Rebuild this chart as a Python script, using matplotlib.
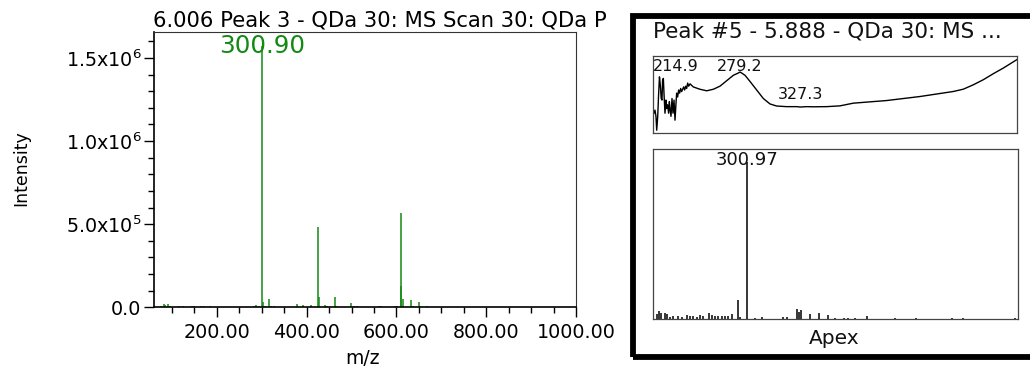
import matplotlib
matplotlib.use('Agg')

import matplotlib.pyplot as plt
from matplotlib.patches import Rectangle
from matplotlib.ticker import MultipleLocator

plt.rcParams['font.family'] = 'DejaVu Sans'

GREEN = '#138a13'

# --- Peak 3 mass spectrum (m/z, counts) ---
ms_mz = [75.6, 81.6, 85.2, 92.0, 95.7, 116.6, 124.0, 145.0, 150.0, 165.0,
         171.0, 185.0, 282.8, 288.0, 293.0, 300.90, 302.9, 306.7, 316.3,
         320.0, 326.8, 379.0, 391.0, 409.6, 425.3, 427.5, 441.0, 444.7,
         462.6, 465.5, 499.8, 505.8, 511.8, 560.2, 565.5, 596.0, 601.3,
         609.5, 610.5, 614.0, 632.6, 636.0, 649.9, 652.0, 668.4]
ms_int = [1.0e4, 1.8e4, 1.4e4, 2.0e4, 1.0e4, 0.8e4, 0.8e4, 0.8e4, 0.8e4,
          1.0e4, 0.8e4, 1.0e4, 1.0e4, 1.4e4, 1.0e4, 1.57e6, 3.4e4, 1.0e4,
          5.0e4, 1.0e4, 0.8e4, 2.0e4, 1.4e4, 1.4e4, 4.85e5, 6.0e4, 1.4e4,
          0.6e4, 6.0e4, 1.0e4, 2.8e4, 1.0e4, 0.8e4, 0.6e4, 0.6e4, 0.8e4,
          0.6e4, 5.66e5, 1.27e5, 5.0e4, 4.4e4, 0.8e4, 3.2e4, 1.0e4, 0.7e4]
ms_label_mz = 300.90
ms_label_int = 1.57e6

# --- Peak #5 UV spectrum (nm, normalised absorbance) ---
uv_wl = [210.5, 211.3, 212.1, 212.7, 213.5, 214.2, 214.9, 215.6, 216.3,
         216.9, 217.4, 218.0, 218.5, 219.3, 220.1, 220.6, 221.4, 222.2,
         222.8, 223.3, 224.1, 224.9, 225.7, 226.5, 227.3, 228.1, 228.6,
         229.4, 230.2, 231.0, 231.8, 232.6, 233.4, 234.2, 235.0, 235.8,
         236.6, 237.4, 238.2, 239.3, 241.9, 247.2, 252.6, 257.9, 263.2,
         268.5, 273.8, 277.8, 279.2, 280.5, 283.2, 287.2, 292.5, 297.8,
         303.1, 308.4, 316.4, 324.4, 327.3, 332.3, 337.7, 348.3, 358.9,
         369.6, 396.2, 422.8, 449.4, 457.4, 465.4, 473.3, 481.3, 489.3,
         500.0]
uv_abs = [0.26, 0.30, 0.22, 0.04, 0.22, 0.50, 0.73, 0.62, 0.45, 0.43,
          0.69, 0.71, 0.52, 0.26, 0.43, 0.32, 0.37, 0.26, 0.41, 0.32,
          0.22, 0.45, 0.26, 0.43, 0.17, 0.39, 0.52, 0.47, 0.56, 0.52,
          0.58, 0.54, 0.57, 0.60, 0.56, 0.61, 0.58, 0.65, 0.61, 0.64,
          0.60, 0.57, 0.55, 0.57, 0.61, 0.68, 0.75, 0.78, 0.793, 0.78,
          0.75, 0.67, 0.56, 0.45, 0.38, 0.353, 0.345, 0.345, 0.340, 0.345,
          0.343, 0.345, 0.355, 0.39, 0.424, 0.476, 0.541, 0.571, 0.628,
          0.693, 0.771, 0.844, 0.952]
uv_marks = [214.9, 279.2, 327.3]

# --- Peak #5 apex mass spectrum (m/z, % of base peak) ---
apex_mz = [59.2, 64.5, 69.9, 81.5, 86.1, 95.0, 103.8, 117.3, 126.5, 139.9,
           148.8, 157.7, 166.8, 175.7, 184.6, 200.8, 207.2, 216.1, 225.0,
           234.1, 243.0, 251.9, 261.0, 278.8, 283.4, 300.97, 323.8, 341.8,
           400.0, 410.7, 436.0, 442.2, 447.6, 471.8, 494.2, 518.4, 539.1,
           563.4, 572.2, 593.0, 624.5, 700.7, 755.1, 852.2, 882.7, 1022.7]
apex_rel = [3.6, 5.3, 4.0, 4.0, 3.2, 1.5, 1.9, 2.3, 1.5, 2.5,
            2.3, 2.3, 1.5, 2.5, 2.3, 4.0, 2.5, 1.9, 1.9,
            2.3, 1.9, 2.3, 3.2, 12.1, 1.5, 100.0, 1.1, 1.5,
            1.5, 1.5, 6.8, 4.4, 6.2, 3.2, 4.0, 3.0, 0.8,
            0.8, 0.8, 0.8, 2.1, 0.6, 0.6, 0.6, 0.6, 0.6]
apex_label_mz = 300.97


def sci_label(v):
    if v == 0:
        return '0.0'
    exp = len(str(int(v))) - 1
    return f'{v / 10 ** exp:.1f}x10$^{{{exp}}}$'


fig = plt.figure(figsize=(10.3, 3.7), dpi=100)

# ---------------- left: mass spectrum ----------------
ax = fig.add_axes([0.1495, 0.1695, 0.4097, 0.7449])
ax.vlines(ms_mz, 0, ms_int, color=GREEN, lw=1.1)
ax.set_xlim(60, 1000)
ax.set_ylim(0, 1.658e6)

yt = [0, 5e5, 1e6, 1.5e6]
ax.set_yticks(yt)
ax.set_yticklabels([sci_label(v) for v in yt])
ax.yaxis.set_minor_locator(MultipleLocator(1e5))
xt = [200, 400, 600, 800, 1000]
ax.set_xticks(xt)
ax.set_xticklabels([f'{v:.2f}' for v in xt])
ax.xaxis.set_minor_locator(MultipleLocator(50))

ax.tick_params(which='major', length=7, width=1.0, labelsize=13.8, pad=2)
ax.tick_params(which='minor', length=4, width=1.0)
ax.tick_params(axis='x', which='major', pad=4)
for side in ['left', 'bottom']:
    ax.spines[side].set_linewidth(1.2)
for side in ['top', 'right']:
    ax.spines[side].set_linewidth(0.8)
    ax.spines[side].set_color('#333333')

ax.annotate(f'{ms_label_mz:.2f}', xy=(ms_label_mz, ms_label_int),
            xytext=(0, -5), textcoords='offset points',
            ha='center', va='baseline', fontsize=17.7, color=GREEN)

fig.text(0.1485, 0.928, '6.006 Peak 3 - QDa 30: MS Scan 30: QDa P',
         fontsize=15.2, va='baseline', ha='left')
fig.text(0.021, 0.546, 'Intensity', rotation=90, fontsize=12.5,
         ha='center', va='center')
fig.text(0.3524, 0.0324, 'm/z', fontsize=13.5, ha='center', va='center')

# ---------------- right: peak #5 summary box ----------------
fig.add_artist(Rectangle((0.6146, 0.036), 0.45, 0.9208,
                         transform=fig.transFigure, fill=False,
                         ec='black', lw=4.2))
fig.text(0.634, 0.8986, 'Peak #5 - 5.888 - QDa 30: MS ...',
         fontsize=15.5, va='baseline', ha='left', color='#111111')

# UV spectrum
ax_uv = fig.add_axes([0.6343, 0.6397, 0.3528, 0.2089])
ax_uv.plot(uv_wl, uv_abs, color='black', lw=1.0)
ax_uv.set_xlim(210, 500)
ax_uv.set_ylim(0, 1.0)
ax_uv.set_xticks([])
ax_uv.set_yticks([])
for sp in ax_uv.spines.values():
    sp.set_linewidth(0.9)
    sp.set_color('#444444')

uv_offsets = {214.9: (-4.7, 4.3, 'left'), 279.2: (0, 1.0, 'center'),
              327.3: (0, 5.5, 'center')}
for wl in uv_marks:
    a = uv_abs[uv_wl.index(wl)]
    dx, dy, ha = uv_offsets[wl]
    ax_uv.annotate(f'{wl:.1f}', xy=(wl, a), xytext=(dx, dy),
                   textcoords='offset points', ha=ha, va='baseline',
                   fontsize=11.5, color='#111111')

# apex mass spectrum
ax_ms = fig.add_axes([0.6343, 0.137, 0.3538, 0.4603])
ax_ms.vlines(apex_mz, 0, apex_rel, color='black', lw=1.1)
ax_ms.set_xlim(50, 1030)
ax_ms.set_ylim(0, 108)
ax_ms.set_xticks([])
ax_ms.set_yticks([])
for sp in ax_ms.spines.values():
    sp.set_linewidth(0.9)
    sp.set_color('#444444')
ax_ms.annotate(f'{apex_label_mz:.2f}', xy=(apex_label_mz, 100),
               xytext=(0, -2.4), textcoords='offset points',
               ha='center', va='baseline', fontsize=13, color='#111111')

fig.text(0.8097, 0.0838, 'Apex', fontsize=14.5, ha='center', va='center',
         color='#111111')

plt.savefig('out.png', dpi=100)
plt.close()
